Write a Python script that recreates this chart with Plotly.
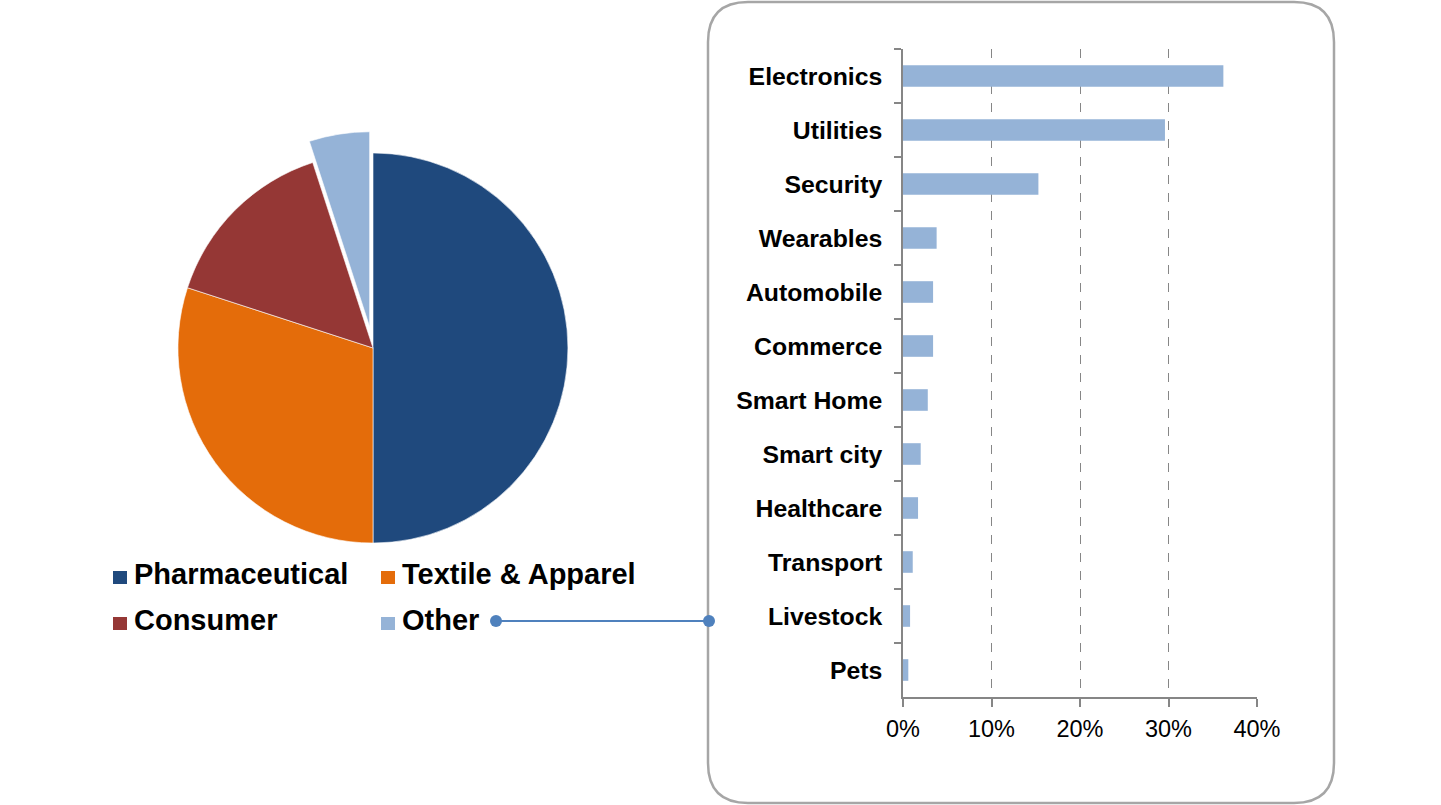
import plotly.graph_objects as go

# ---- data ----
pie_labels = ["Pharmaceutical", "Textile & Apparel", "Consumer", "Other"]
pie_values = [50, 30, 15, 5]
pie_colors = ["#1F497D", "#E46C0A", "#953735", "#95B3D7"]
pie_pull = [0, 0, 0, 0.11]

bar_categories = ["Electronics", "Utilities", "Security", "Wearables", "Automobile",
                  "Commerce", "Smart Home", "Smart city", "Healthcare", "Transport",
                  "Livestock", "Pets"]
bar_values = [0.362, 0.296, 0.153, 0.038, 0.034, 0.034, 0.028, 0.020, 0.017, 0.011, 0.008, 0.006]
bar_color = "#95B3D7"
x_tickvals = [0, 0.1, 0.2, 0.3, 0.4]

W, H = 1441, 805
FONT = "Liberation Sans, Arial, sans-serif"


def px(x):
    return x / W


def py(y):
    return 1 - y / H


fig = go.Figure()

fig.add_trace(go.Pie(
    labels=pie_labels, values=pie_values, sort=False, direction="clockwise",
    rotation=0, pull=pie_pull, textinfo="none", hoverinfo="label+percent",
    marker=dict(colors=pie_colors, line=dict(color="white", width=0.6)),
    domain=dict(x=[px(156.5), px(589.5)], y=[py(564.5), py(131.5)]),
    showlegend=False,
))

fig.add_trace(go.Bar(
    y=bar_categories, x=bar_values, orientation="h",
    marker=dict(color=bar_color, line=dict(width=0)), showlegend=False,
    xaxis="x", yaxis="y",
))

axis_grey = "#868686"
fig.update_layout(
    width=W, height=H, margin=dict(l=0, r=0, t=0, b=0, autoexpand=False),
    paper_bgcolor="white", plot_bgcolor="white",
    bargap=0.6,
    font=dict(family=FONT, color="black"),
    xaxis=dict(
        domain=[px(903), px(1257)], range=[0, 0.4], tickvals=x_tickvals,
        tickformat=".0%", showgrid=True, gridcolor=axis_grey, griddash="dash",
        gridwidth=1, showline=True, linecolor=axis_grey, linewidth=1.5,
        ticks="outside", ticklen=8, tickcolor=axis_grey, tickwidth=1.5,
        tickfont=dict(size=23.5, family=FONT, color="black"),
        zeroline=False, ticklabelstandoff=2, fixedrange=True, automargin=False,
    ),
    yaxis=dict(
        domain=[py(697), py(49)], autorange="reversed", type="category",
        categoryorder="array", categoryarray=bar_categories,
        showline=True, linecolor=axis_grey, linewidth=1.5,
        ticks="outside", ticklen=7, tickcolor=axis_grey, tickwidth=1.5,
        tickson="boundaries", showgrid=False,
        tickfont=dict(size=24.8, family=FONT, color="black", weight="bold"),
        ticklabelstandoff=14, fixedrange=True, automargin=False,
    ),
)

# Legend (manual, matching the reference's two-column layout)
shapes = []
annotations = []
leg_cols = [113, 381]
leg_rows = [578, 624]
for i, (lab, col) in enumerate(zip(pie_labels, pie_colors)):
    cx = leg_cols[i % 2]
    cy = leg_rows[i // 2]
    shapes.append(dict(type="rect", xref="paper", yref="paper",
                       x0=px(cx), x1=px(cx + 14), y0=py(cy + 6), y1=py(cy - 7),
                       fillcolor=col, line=dict(width=0)))
    annotations.append(dict(xref="paper", yref="paper", x=px(cx + 19), y=py(cy - 4),
                            xanchor="left", yanchor="middle", showarrow=False,
                            text="<b>%s</b>" % lab,
                            font=dict(size=29, family=FONT, color="black")))

# Rounded box around bar chart
x0, x1, y0, y1, r = 708, 1334, 2, 803, 40
path = (f"M {px(x0 + r)},{py(y0)} L {px(x1 - r)},{py(y0)} "
        f"Q {px(x1)},{py(y0)} {px(x1)},{py(y0 + r)} "
        f"L {px(x1)},{py(y1 - r)} Q {px(x1)},{py(y1)} {px(x1 - r)},{py(y1)} "
        f"L {px(x0 + r)},{py(y1)} Q {px(x0)},{py(y1)} {px(x0)},{py(y1 - r)} "
        f"L {px(x0)},{py(y0 + r)} Q {px(x0)},{py(y0)} {px(x0 + r)},{py(y0)} Z")
shapes.append(dict(type="path", xref="paper", yref="paper", path=path,
                   line=dict(color="#A6A6A6", width=2.5), layer="below"))

# Connector from "Other" to the box
conn_col = "#4F81BD"
cy = 621
shapes.append(dict(type="line", xref="paper", yref="paper",
                   x0=px(496), x1=px(709), y0=py(cy), y1=py(cy),
                   line=dict(color=conn_col, width=2)))
for cx in (496, 709):
    shapes.append(dict(type="circle", xref="paper", yref="paper",
                       x0=px(cx - 6), x1=px(cx + 6), y0=py(cy + 6), y1=py(cy - 6),
                       fillcolor=conn_col, line=dict(color=conn_col, width=0)))

fig.update_layout(shapes=shapes, annotations=annotations)

fig.write_html("out.html", config={"displayModeBar": False},
               post_script="document.body.style.margin='0';document.body.style.overflow='hidden';")
